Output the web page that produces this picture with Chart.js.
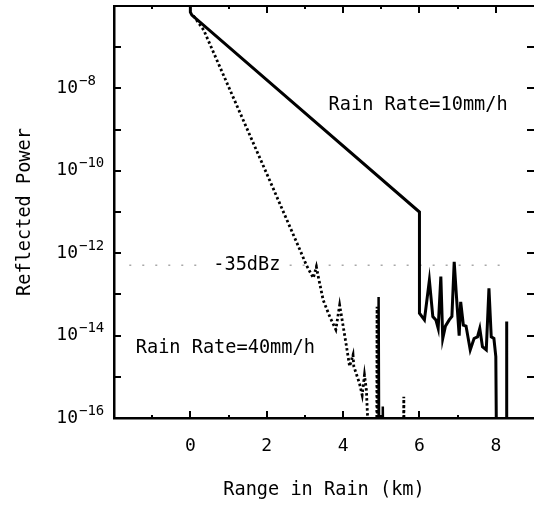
<!DOCTYPE html>
<html><head><meta charset="utf-8">
<script src="https://cdn.jsdelivr.net/npm/chart.js@4/dist/chart.umd.min.js"></script>
<style>html,body{margin:0;padding:0;background:#fff}#wrap{width:534px;height:517px}</style>
</head><body><div id="wrap"><canvas id="c" width="534" height="517"></canvas></div>
<script>
// ---- data (range in km, reflected power) ----
const rain10X = [0, 0, 0.04, 6.0, 6.0, 6.13, 6.26, 6.35, 6.43, 6.49, 6.56, 6.61, 6.68, 6.78, 6.85, 6.91, 6.97, 7.04, 7.08, 7.15, 7.22, 7.33, 7.43, 7.52, 7.58, 7.65, 7.75, 7.82, 7.88, 7.95, 8.0, 8.02, 8.27, 8.28, 8.29];
const rain10Y = [1e-6, 7.1e-7, 6.0e-7, 1.0e-11, 3.5e-14, 2.4e-14, 2.2e-13, 2.9e-14, 2.4e-14, 1.5e-14, 2.7e-13, 8.5e-15, 1.7e-14, 2.4e-14, 2.9e-14, 6.2e-13, 8.7e-14, 1.0e-14, 6.6e-14, 1.8e-14, 1.7e-14, 4.5e-15, 8.5e-15, 9.3e-15, 1.5e-14, 5.4e-15, 4.5e-15, 1.4e-13, 9.3e-15, 8.5e-15, 3.1e-15, 1e-17, 1e-17, 2.2e-14, 1e-17];

const rain40X = [0.08, 0.35, 2.09, 2.87, 3.04, 3.22, 3.30, 3.35, 3.48, 3.65, 3.81, 3.91, 3.96, 4.09, 4.17, 4.26, 4.28, 4.43, 4.50, 4.56, 4.61, 4.69, 4.88, 4.89, 4.90, 5.58, 5.59, 5.60];
const rain40Y = [5.8e-7, 2.6e-7, 5.5e-11, 1.2e-12, 5.1e-13, 2.5e-13, 4.7e-13, 2.7e-13, 7.2e-14, 2.9e-14, 1.4e-14, 5.5e-14, 2.9e-14, 5.4e-15, 1.8e-15, 3.4e-15, 1.8e-15, 6.9e-16, 3.6e-16, 1.1e-15, 4.8e-16, 1e-17, 1e-17, 5.0e-14, 1e-17, 1e-17, 3.3e-16, 1e-17];

const spikeX = [4.92, 4.93, 4.945, 5.03, 5.04, 5.05];
const spikeY = [1e-17, 8.7e-14, 1e-17, 1e-17, 1.9e-16, 1e-17];

const thresholdX = [-1.6, 0.25, 0.3, 2.6, 8.3];
const thresholdY = [5.1e-13, 5.1e-13, null, 5.1e-13, 5.1e-13];

const xTicks = [-1, 0, 1, 2, 3, 4, 5, 6, 7, 8];
const xLabelled = [0, 2, 4, 6, 8];
const yExponents = [-16, -15, -14, -13, -12, -11, -10, -9, -8, -7, -6];
const yLabelled = [-16, -14, -12, -10, -8];

const labels = [
  {text: 'Rain Rate=10mm/h', x: 3.62, y: 4e-9},
  {text: 'Rain Rate=40mm/h', x: -1.43, y: 5e-15},
  {text: '-35dBz', x: 0.6, y: 5.1e-13}
];

const pts = (xs, ys) => xs.map((x, i) => ({x: x, y: ys[i]}));
const FONT = '"DejaVu Sans Mono", monospace';

const decorPlugin = {
  id: 'decor',
  afterDatasetsDraw(chart) {
    const ctx = chart.ctx, a = chart.chartArea;
    const xs = chart.scales.x, ys = chart.scales.y;
    ctx.save();
    ctx.strokeStyle = '#000';
    ctx.lineWidth = 2;
    ctx.beginPath(); ctx.moveTo(a.left, a.top); ctx.lineTo(a.right, a.top); ctx.stroke();
    xTicks.forEach(v => {
      const px = Math.round(xs.getPixelForValue(v));
      const major = v % 2 === 0;
      ctx.beginPath();
      ctx.moveTo(px, a.bottom); ctx.lineTo(px, a.bottom - (major ? 7 : 3));
      ctx.moveTo(px, a.top); ctx.lineTo(px, a.top + (major ? 7 : 3));
      ctx.stroke();
    });
    yExponents.forEach(e => {
      const py = Math.round(ys.getPixelForValue(Math.pow(10, e)));
      ctx.beginPath();
      ctx.moveTo(a.left, py); ctx.lineTo(a.left + 7, py);
      ctx.moveTo(a.right, py); ctx.lineTo(a.right - 7, py);
      ctx.stroke();
    });
    ctx.fillStyle = '#000';
    ctx.font = '14px ' + FONT;
    ctx.textAlign = 'left';
    ctx.textBaseline = 'middle';
    yLabelled.forEach(e => {
      const py = ys.getPixelForValue(Math.pow(10, e));
      ctx.fillText('\u2212' + Math.abs(e), a.left - 35, py - 7);
    });
    ctx.font = '18.6px ' + FONT;
    labels.forEach(l => {
      ctx.fillText(l.text, xs.getPixelForValue(l.x), ys.getPixelForValue(l.y));
    });
    ctx.restore();
  }
};

new Chart(document.getElementById('c'), {
  type: 'line',
  data: {
    datasets: [
      {label: 'Rain Rate=10mm/h', data: pts(rain10X, rain10Y), borderColor: '#000', borderWidth: 3, pointRadius: 0, tension: 0},
      {label: 'Rain Rate=40mm/h', data: pts(rain40X, rain40Y), borderColor: '#000', borderWidth: 2.8, borderDash: [2.5, 2.5], pointRadius: 0, tension: 0},
      {label: 'spikes', data: pts(spikeX, spikeY), borderColor: '#000', borderWidth: 2.5, pointRadius: 0, tension: 0},
      {label: '-35dBz', data: pts(thresholdX, thresholdY), borderColor: '#a8a8a8', borderWidth: 1.5, borderDash: [2, 11], pointRadius: 0, spanGaps: false}
    ]
  },
  options: {
    responsive: false,
    animation: false,
    devicePixelRatio: 1,
    layout: {padding: {top: 6, right: 0, left: 0, bottom: 0}},
    plugins: {legend: {display: false}, tooltip: {enabled: false}},
    scales: {
      x: {
        type: 'linear', min: -2, max: 9,
        afterBuildTicks: s => { s.ticks = xTicks.map(v => ({value: v})); },
        afterFit: s => { s.height = 99; s.paddingLeft = 0; s.paddingRight = 0; },
        ticks: {callback: v => (xLabelled.includes(v) ? String(v) : ''), color: '#000', font: {family: FONT, size: 18}, padding: 18, maxRotation: 0, autoSkip: false},
        grid: {display: false, drawTicks: false},
        border: {display: true, color: '#000', width: 2.5},
        title: {display: true, text: 'Range in Rain (km)', color: '#000', font: {family: FONT, size: 18.6}, padding: {top: 0, bottom: 16}}
      },
      y: {
        type: 'logarithmic', min: 1e-16, max: 1e-6,
        afterBuildTicks: s => { s.ticks = yExponents.map(e => ({value: Math.pow(10, e)})); },
        afterFit: s => { s.width = 114; s.paddingTop = 0; s.paddingBottom = 0; },
        ticks: {callback: v => (yLabelled.includes(Math.round(Math.log10(v))) ? '10' : ''), color: '#000', font: {family: FONT, size: 18}, padding: 36, autoSkip: false},
        grid: {display: false, drawTicks: false},
        border: {display: true, color: '#000', width: 2.5},
        title: {display: true, text: 'Reflected Power', color: '#000', font: {family: FONT, size: 18.6}, padding: {top: 14, bottom: 0}}
      }
    }
  },
  plugins: [decorPlugin]
});
</script>
</body></html>
